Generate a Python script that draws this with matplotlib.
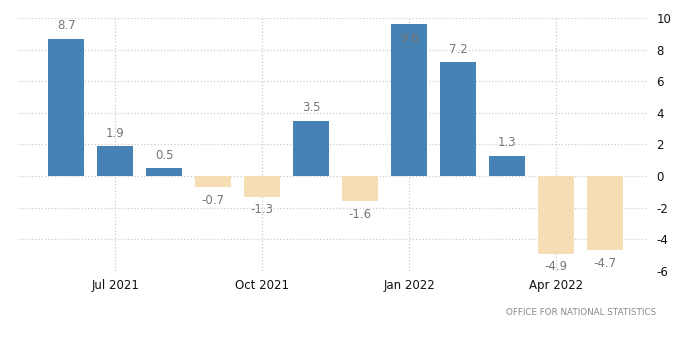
import matplotlib.pyplot as plt
import numpy as np

plt.rcParams['axes.unicode_minus'] = False

months = ['Jun 2021', 'Jul 2021', 'Aug 2021', 'Sep 2021', 'Oct 2021', 'Nov 2021',
          'Dec 2021', 'Jan 2022', 'Feb 2022', 'Mar 2022', 'Apr 2022', 'May 2022']
values = [8.7, 1.9, 0.5, -0.7, -1.3, 3.5, -1.6, 9.6, 7.2, 1.3, -4.9, -4.7]
tick_months = ['Jul 2021', 'Oct 2021', 'Jan 2022', 'Apr 2022']

fig = plt.figure(figsize=(7, 3.59), dpi=100)
ax = fig.add_axes([0.026, 0.245, 0.9, 0.705])

x = np.arange(len(months))
colors = ['#4682B4' if v >= 0 else '#F5DEB3' for v in values]
ax.bar(x, values, width=0.73, color=colors, zorder=2)

for xi, v in zip(x, values):
    if v >= 0:
        if v + 0.9 > 10:
            # no room above the top of the axes, so it goes inside the bar
            ax.text(xi, v - 0.5, f'{v:.1f}', ha='center', va='top', fontsize=8.5, color='#777777', zorder=3)
        else:
            ax.text(xi, v + 0.4, f'{v:.1f}', ha='center', va='bottom', fontsize=8.5, color='#777777', zorder=3)
    else:
        ax.text(xi, v - 0.4, f'{v:.1f}', ha='center', va='top', fontsize=8.5, color='#777777', zorder=3)

ax.set_xlim(-0.98, 11.88)
ax.set_ylim(-6, 10)
ax.set_yticks(np.arange(-6, 11, 2))
ax.set_xticks([months.index(m) for m in tick_months])
ax.set_xticklabels(tick_months)
ax.yaxis.tick_right()
ax.tick_params(axis='both', length=0, labelsize=8.5, colors='#111111')
ax.tick_params(axis='y', pad=6)
ax.tick_params(axis='x', pad=6)
ax.grid(True, color='#cccccc', linestyle=':', linewidth=0.9, zorder=0)
for s in ax.spines.values():
    s.set_visible(False)

fig.text(0.938, 0.13, 'OFFICE FOR NATIONAL STATISTICS', ha='right', va='center',
         fontsize=6.3, color='#888888')

fig.savefig('out.png', dpi=100)
